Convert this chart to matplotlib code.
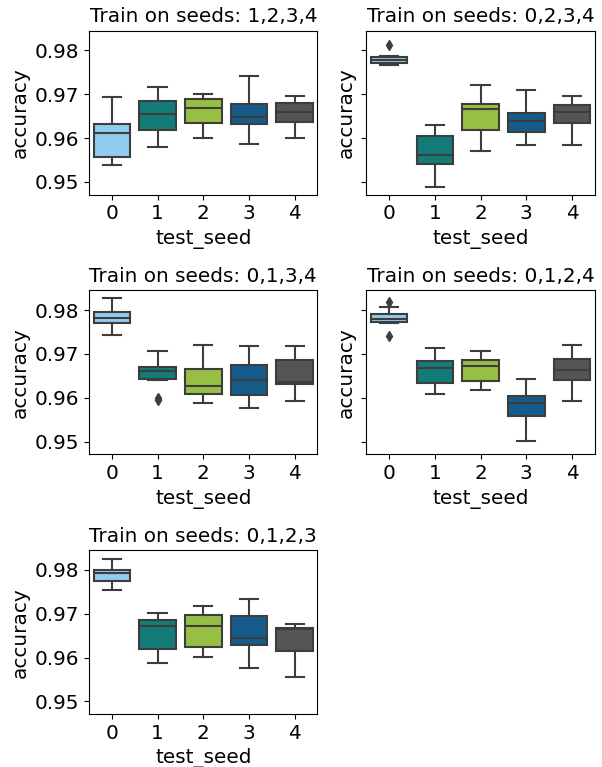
import matplotlib
matplotlib.use("Agg")
import matplotlib.pyplot as plt

# test seeds on the x axis, one panel per training set
test_seeds = [0, 1, 2, 3, 4]
titles = ["Train on seeds: 1,2,3,4", "Train on seeds: 0,2,3,4",
          "Train on seeds: 0,1,3,4", "Train on seeds: 0,1,2,4",
          "Train on seeds: 0,1,2,3"]
colors = ["#91cbee", "#137b78", "#97bf44", "#165c8a", "#555555"]

# box stats: whisker low, q1, median, q3, whisker high
whislo = [
    [0.9538, 0.9580, 0.9601, 0.9587, 0.9601],
    [0.9767, 0.9488, 0.9571, 0.9584, 0.9584],
    [0.9743, 0.9641, 0.9588, 0.9576, 0.9592],
    [0.9771, 0.9609, 0.9618, 0.9501, 0.9592],
    [0.9755, 0.9588, 0.9602, 0.9576, 0.9556],
]
q1 = [
    [0.9557, 0.9618, 0.9635, 0.9631, 0.9636],
    [0.9772, 0.9541, 0.9619, 0.9614, 0.9635],
    [0.9771, 0.9644, 0.9609, 0.9607, 0.9631],
    [0.9773, 0.9634, 0.9639, 0.9558, 0.9640],
    [0.9774, 0.9620, 0.9625, 0.9628, 0.9615],
]
med = [
    [0.9611, 0.9654, 0.9669, 0.9647, 0.9660],
    [0.9778, 0.9561, 0.9667, 0.9638, 0.9659],
    [0.9783, 0.9662, 0.9628, 0.9641, 0.9636],
    [0.9779, 0.9668, 0.9672, 0.9587, 0.9664],
    [0.9794, 0.9671, 0.9671, 0.9645, 0.9666],
]
q3 = [
    [0.9632, 0.9684, 0.9690, 0.9677, 0.9681],
    [0.9784, 0.9604, 0.9678, 0.9657, 0.9675],
    [0.9795, 0.9671, 0.9665, 0.9674, 0.9686],
    [0.9791, 0.9684, 0.9687, 0.9603, 0.9688],
    [0.9800, 0.9686, 0.9696, 0.9695, 0.9668],
]
whishi = [
    [0.9693, 0.9717, 0.9700, 0.9741, 0.9696],
    [0.9788, 0.9629, 0.9721, 0.9709, 0.9696],
    [0.9828, 0.9706, 0.9721, 0.9718, 0.9718],
    [0.9807, 0.9713, 0.9706, 0.9643, 0.9721],
    [0.9826, 0.9701, 0.9718, 0.9734, 0.9676],
]
fliers = [
    [[], [], [], [], []],
    [[0.9813], [], [], [], []],
    [[], [0.9600, 0.9594], [], [], []],
    [[0.9819, 0.9742], [], [], [], []],
    [[], [], [], [], []],
]

plt.rcParams["font.size"] = 14.4
edge = "#3d3d3d"

fig, axes = plt.subplots(3, 2, figsize=(6.02, 7.67), dpi=100, sharey=True)
fig.subplots_adjust(left=0.148, right=0.988, top=0.96, bottom=0.069,
                    wspace=0.214, hspace=0.585)
axes = axes.ravel()

for p, title in enumerate(titles):
    ax = axes[p]
    stats = []
    for i in range(len(test_seeds)):
        stats.append({"whislo": whislo[p][i], "q1": q1[p][i], "med": med[p][i],
                      "q3": q3[p][i], "whishi": whishi[p][i],
                      "fliers": fliers[p][i]})
    bp = ax.bxp(stats, positions=test_seeds, widths=0.8, patch_artist=True,
                manage_ticks=False,
                boxprops=dict(edgecolor=edge, linewidth=1.5),
                medianprops=dict(color=edge, linewidth=1.5),
                whiskerprops=dict(color=edge, linewidth=1.5),
                capprops=dict(color=edge, linewidth=1.5),
                flierprops=dict(marker="d", markerfacecolor=edge,
                                markeredgecolor=edge, markersize=5))
    for box, c in zip(bp["boxes"], colors):
        box.set_facecolor(c)
    ax.set_xlim(-0.5, 4.5)
    ax.set_xticks(test_seeds)
    ax.set_xticklabels([str(s) for s in test_seeds])
    ax.set_yticks([0.95, 0.96, 0.97, 0.98])
    ax.set_title(title, fontsize=14.4)
    ax.set_xlabel("test_seed")
    ax.set_ylabel("accuracy")
    ax.tick_params(axis="y", labelleft=(p % 2 == 0))

axes[0].set_ylim(0.9471, 0.9845)
fig.delaxes(axes[5])

fig.savefig("out.png", dpi=100)
